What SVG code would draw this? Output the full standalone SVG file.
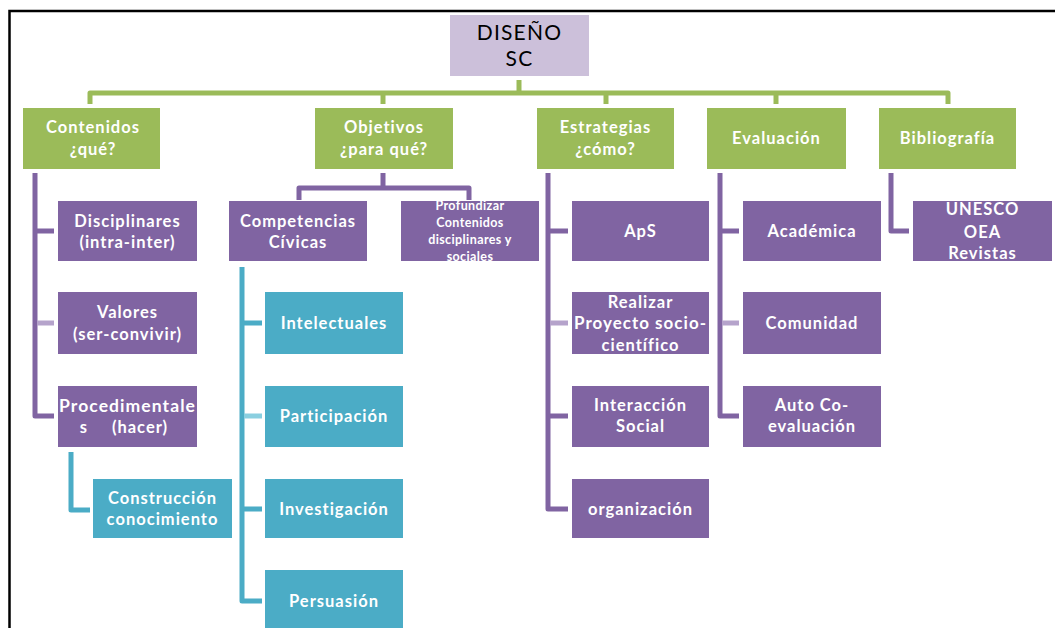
<svg xmlns="http://www.w3.org/2000/svg" width="1055" height="628" viewBox="0 0 1055 628">
<style>
.g{fill:#9BBB59}.p{fill:#8064A2}.t{fill:#4BACC6}.r{fill:#CCC0DA}
text{font-family:Lato,"Open Sans","Liberation Sans",sans-serif;text-anchor:middle;fill:#fff;font-weight:bold;font-size:16.5px;letter-spacing:1px}
.rt{fill:#000;font-weight:normal;font-size:21px;letter-spacing:1.2px}
.sm{font-size:12.5px;letter-spacing:0.4px}
.cg{stroke:#9BBB59;stroke-width:5;fill:none;stroke-linejoin:round}
.cp{stroke:#8064A2;stroke-width:5;fill:none;stroke-linejoin:round}
.cpl{stroke:#B5A3CB;stroke-width:5;fill:none}
.ct{stroke:#4BACC6;stroke-width:5;fill:none;stroke-linejoin:round}
.ctl{stroke:#8ACFE0;stroke-width:5;fill:none}
</style>
<defs><clipPath id="pc"><rect x="401" y="201" width="138" height="60"/></clipPath></defs>
<rect width="1055" height="628" fill="#fff"/>
<path d="M9.5,628 V11 H1055" stroke="#000" stroke-width="2.5" fill="none"/>
<g id="connectors">
<path class="cg" d="M519,80 V93"/>
<path class="cg" d="M90,104 V93 H948 V104"/>
<path class="cg" d="M383,93 V104 M606,93 V104 M776,93 V104"/>
<path class="cp" d="M35,173 V416 H54 M35,231 H54"/>
<path class="cpl" d="M37,323 H54"/>
<path class="cp" d="M383,173 V188 M299,200 V188 H469 V200"/>
<path class="ct" d="M242,267 V601 H262 M242,323 H262 M242,509 H262"/>
<path class="ctl" d="M244,416 H262"/>
<path class="ct" d="M71,452 V510 H90"/>
<path class="cp" d="M548,173 V509 H568 M548,231 H568 M548,416 H568"/>
<path class="cpl" d="M550,323 H568"/>
<path class="cp" d="M720,173 V416 H739 M720,231 H739"/>
<path class="cpl" d="M722,323 H739"/>
<path class="cp" d="M891,173 V231 H909"/>
</g>
<g id="root"><rect class="r" x="450" y="15" width="139" height="61"/><text class="rt" x="519.5" y="40">DISEÑO</text><text class="rt" x="519.5" y="66">SC</text></g>
<g id="contenidos"><rect class="g" x="23" y="108" width="137" height="61"/><text x="93" y="133">Contenidos</text><text x="93" y="155">¿qué?</text></g>
<g id="objetivos"><rect class="g" x="315" y="108" width="138" height="61"/><text x="384" y="133">Objetivos</text><text x="384" y="155">¿para qué?</text></g>
<g id="estrategias"><rect class="g" x="537" y="108" width="137" height="61"/><text x="605.5" y="133">Estrategias</text><text x="605.5" y="155">¿cómo?</text></g>
<g id="evaluacion"><rect class="g" x="707" y="108" width="139" height="61"/><text x="776.5" y="144">Evaluación</text></g>
<g id="bibliografia"><rect class="g" x="879" y="108" width="137" height="61"/><text x="947.5" y="144">Bibliografía</text></g>
<g id="disciplinares"><rect class="p" x="58" y="201" width="139" height="60"/><text x="127.5" y="227">Disciplinares</text><text x="127.5" y="248">(intra-inter)</text></g>
<g id="valores"><rect class="p" x="58" y="292" width="139" height="62"/><text x="127.5" y="318">Valores</text><text x="127.5" y="340">(ser-convivir)</text></g>
<g id="procedimentales"><rect class="p" x="58" y="386" width="139" height="61"/><text x="127.5" y="412" textLength="137" lengthAdjust="spacingAndGlyphs">Procedimentale</text><text x="84" y="433">s</text><text x="140" y="433">(hacer)</text></g>
<g id="construccion"><rect class="t" x="93" y="479" width="139" height="59"/><text x="162.5" y="504">Construcción</text><text x="162.5" y="525">conocimiento</text></g>
<g id="competencias"><rect class="p" x="229" y="201" width="138" height="60"/><text x="298" y="227">Competencias</text><text x="298" y="248">Cívicas</text></g>
<g id="profundizar"><rect class="p" x="401" y="201" width="138" height="60"/><g clip-path="url(#pc)"><text class="sm" x="470" y="210">Profundizar</text><text class="sm" x="470" y="227">Contenidos</text><text class="sm" x="470" y="244">disciplinares y</text><text class="sm" x="470" y="261">sociales</text></g></g>
<g id="intelectuales"><rect class="t" x="265" y="292" width="138" height="62"/><text x="334" y="329">Intelectuales</text></g>
<g id="participacion"><rect class="t" x="265" y="386" width="138" height="61"/><text x="334" y="422">Participación</text></g>
<g id="investigacion"><rect class="t" x="265" y="479" width="138" height="59"/><text x="334" y="515">Investigación</text></g>
<g id="persuasion"><rect class="t" x="265" y="570" width="138" height="60"/><text x="334" y="607">Persuasión</text></g>
<g id="aps"><rect class="p" x="572" y="201" width="137" height="60"/><text x="640.5" y="237">ApS</text></g>
<g id="realizar"><rect class="p" x="572" y="292" width="137" height="62"/><text x="640.5" y="308">Realizar</text><text x="640.5" y="329" textLength="133" lengthAdjust="spacingAndGlyphs">Proyecto socio-</text><text x="640.5" y="351">científico</text></g>
<g id="interaccion"><rect class="p" x="572" y="386" width="137" height="61"/><text x="640.5" y="411">Interacción</text><text x="640.5" y="432">Social</text></g>
<g id="organizacion"><rect class="p" x="572" y="479" width="137" height="59"/><text x="640.5" y="515">organización</text></g>
<g id="academica"><rect class="p" x="743" y="201" width="138" height="60"/><text x="812" y="237">Académica</text></g>
<g id="comunidad"><rect class="p" x="743" y="292" width="138" height="62"/><text x="812" y="329">Comunidad</text></g>
<g id="autoco"><rect class="p" x="743" y="386" width="138" height="61"/><text x="812" y="411">Auto  Co-</text><text x="812" y="432">evaluación</text></g>
<g id="unesco"><rect class="p" x="913" y="201" width="139" height="60"/><text x="982.5" y="215">UNESCO</text><text x="982.5" y="238">OEA</text><text x="982.5" y="259">Revistas</text></g>
</svg>
